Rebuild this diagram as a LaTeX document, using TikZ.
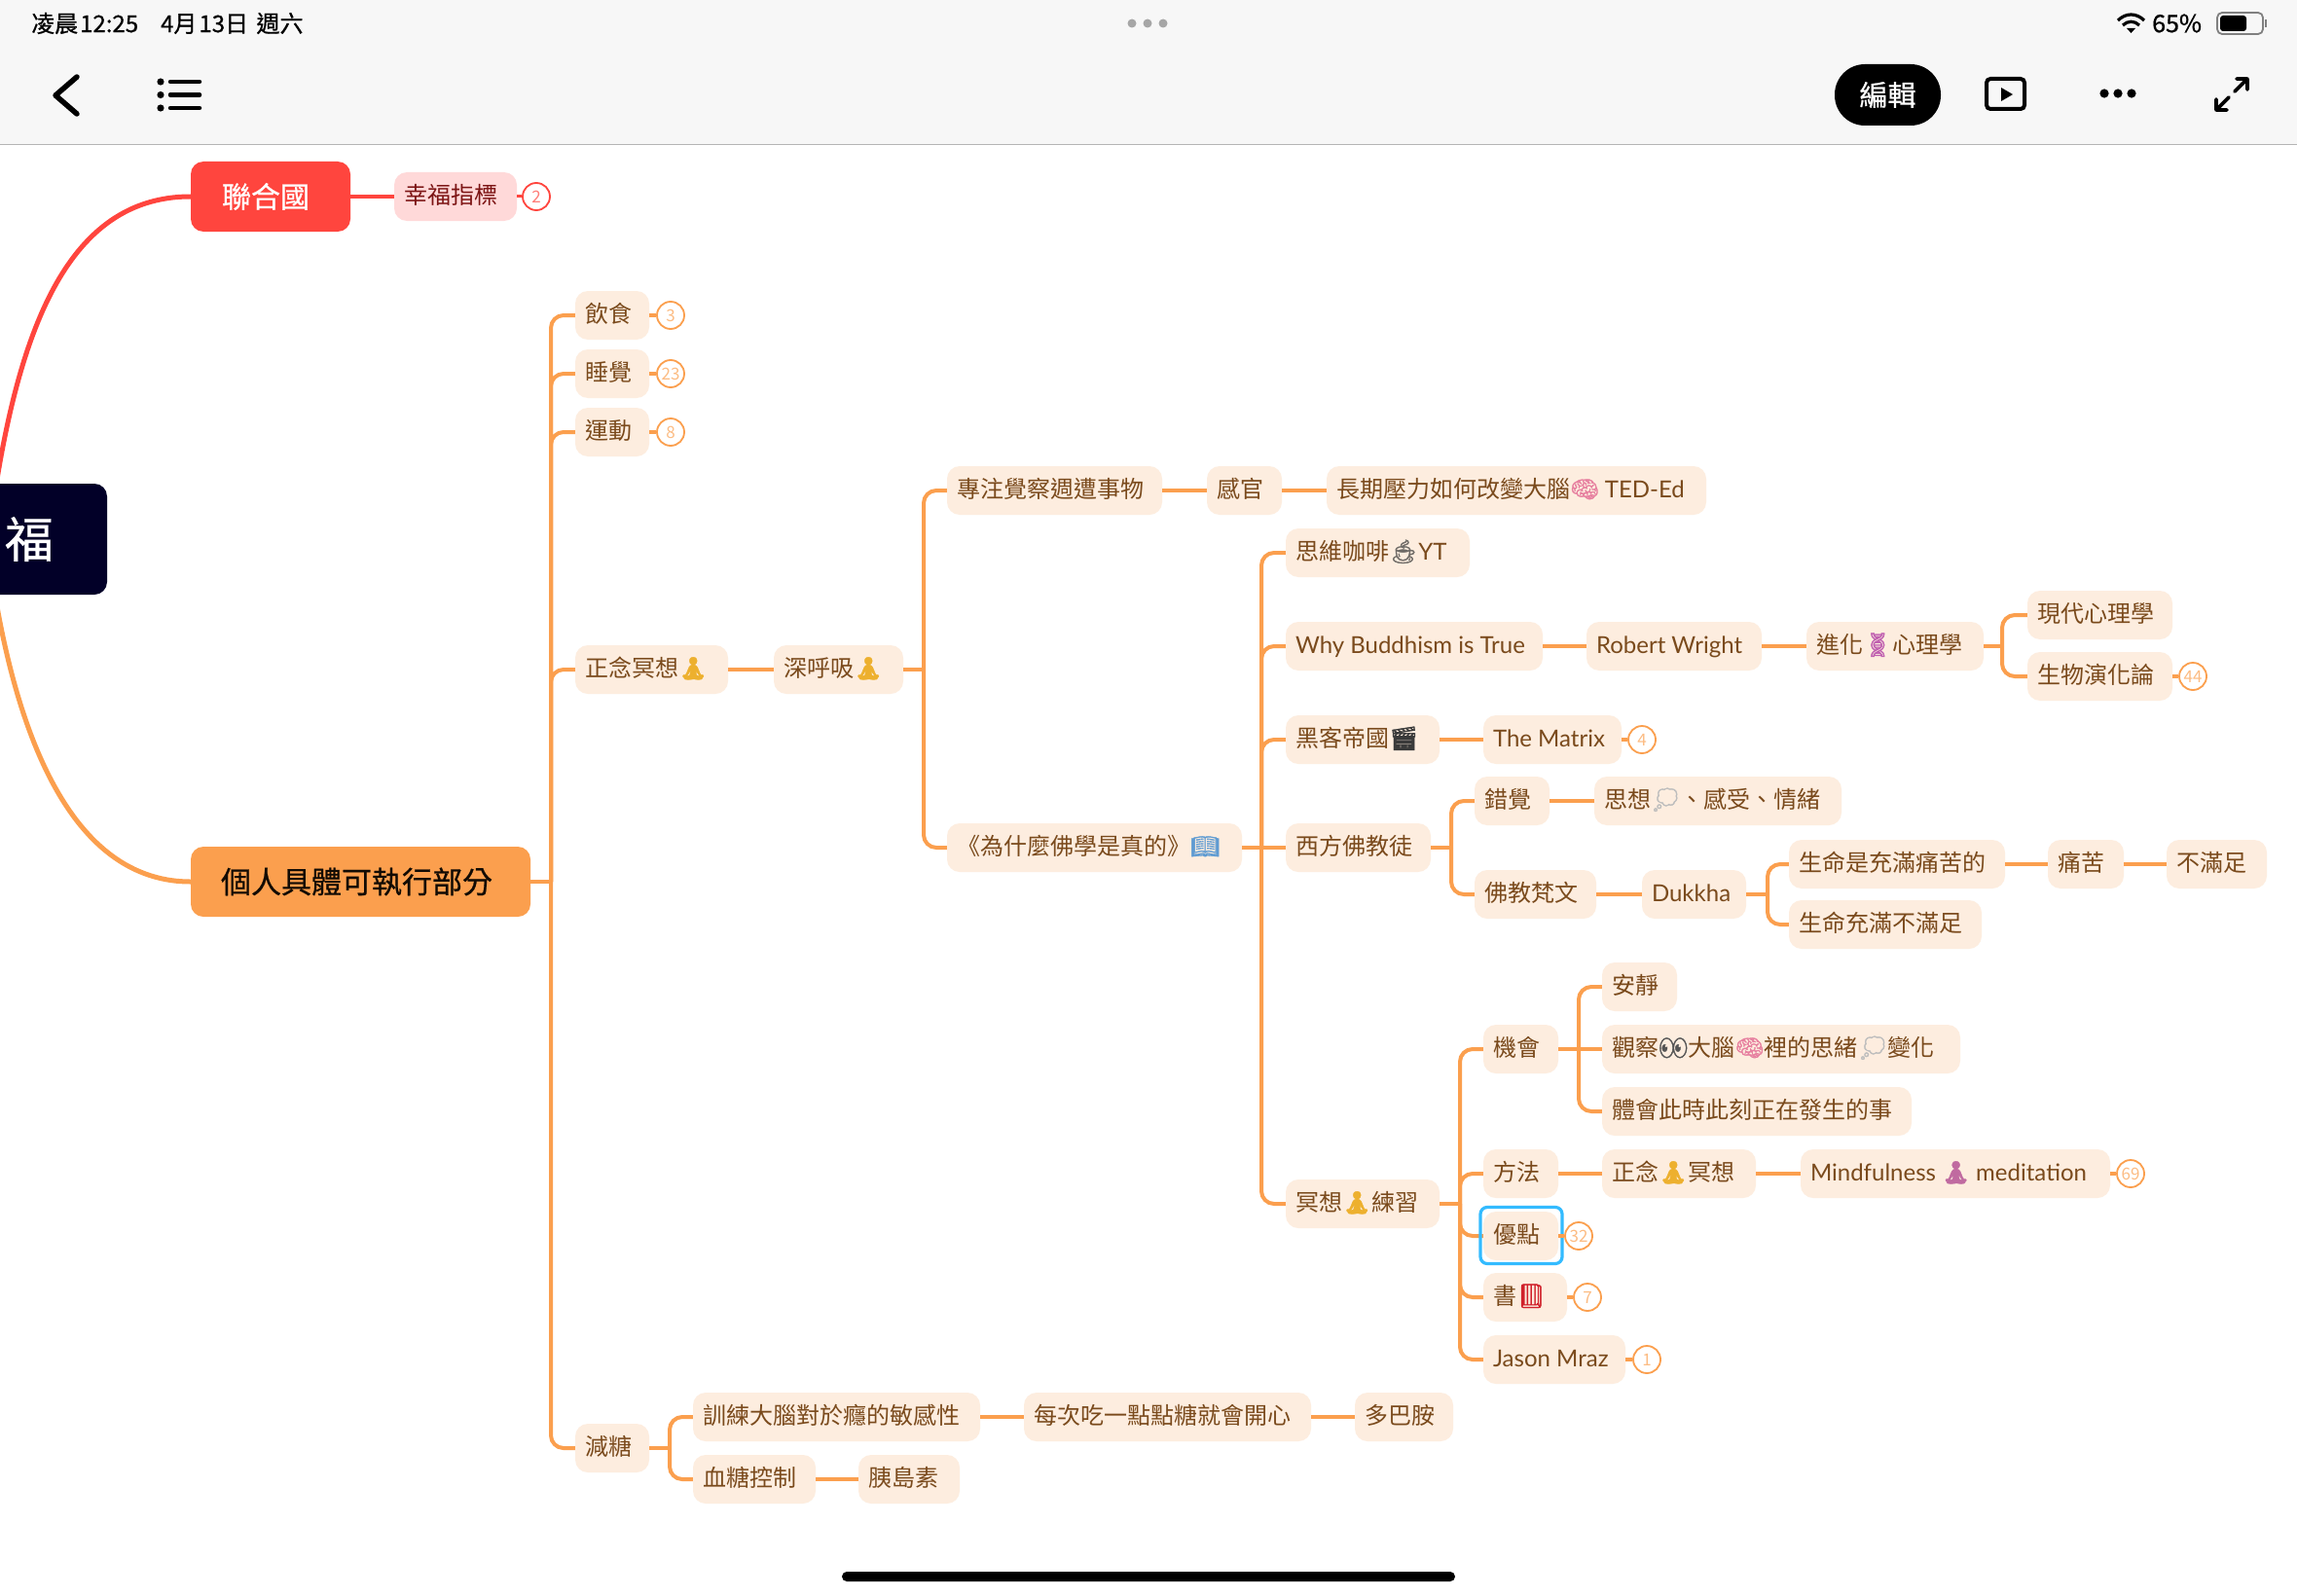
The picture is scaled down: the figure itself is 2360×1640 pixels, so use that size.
\documentclass[tikz,border=0pt]{standalone}
\usepackage{fontspec}
\setmainfont{Noto Sans CJK TC}
\newfontfamily\latf{Lato}
\newfontfamily\medf[FakeBold=0.7]{Noto Sans CJK TC}
\newfontfamily\emof[FakeBold=1.5]{Noto Emoji}
\newcommand{\lat}[1]{{\latf #1}}
\newcommand{\emo}[2]{\textcolor[HTML]{#1}{\emof #2}}
\definecolor{hdr}{HTML}{F7F7F7}
\definecolor{hln}{HTML}{B4B4B4}
\definecolor{org}{HTML}{FB9F4E}
\definecolor{redc}{HTML}{FF453E}
\definecolor{peach}{HTML}{FDEDDF}
\definecolor{brn}{HTML}{7A4A1C}
\definecolor{pink}{HTML}{FFD9D9}
\definecolor{drd}{HTML}{7C1414}
\definecolor{navy}{HTML}{020028}
\definecolor{sel}{HTML}{33BBFF}
\tikzset{
 nbox/.style={fill=peach,text=brn,rounded corners=13pt,inner xsep=0pt,inner ysep=0pt,minimum height=50pt,text height=20pt,text depth=6pt,font=\fontsize{24}{28}\selectfont},
 redbox/.style={nbox,fill=pink,text=drd},
 conn/.style={draw=org,line width=4pt,rounded corners=13pt},
 rconn/.style={draw=redc,line width=4pt},
 badge/.style={circle,draw=org,line width=1.8pt,fill=white,text=org!70,minimum size=28pt,inner sep=0pt,font=\fontsize{17}{20}\selectfont},
 rbadge/.style={badge,draw=redc,text=redc!70},
 icon/.style={draw=black,line width=4.5pt,line cap=round,line join=round},
}
\newcommand{\nd}[6][nbox]{%
 \pgfmathsetmacro\ww{#4-#3}%
 \node[#1,minimum width=\ww pt] (#2) at ({(#3+#4)/2},#5) {\makebox[\ww pt][l]{\hspace{10pt}#6}};}
\newcommand{\bd}[5][badge]{\node[#1] (#2) at (#3,#4) {#5};}
\begin{document}
\begin{tikzpicture}[x=1pt,y=-1pt]
\clip (0,0) rectangle (2360,1640);
\fill[white] (0,0) rectangle (2360,1640);
% header
\fill[hdr] (0,0) rectangle (2360,148);
\draw[hln,line width=1.5pt] (0,148.5) -- (2360,148.5);
\node[anchor=west,inner sep=0pt,font=\fontsize{24}{26}\selectfont\medf] (stat) at (32,24) {凌晨\hspace{2pt}12:25\hspace{23pt}4月\hspace{2pt}13日\hspace{3pt} 週六};
\fill[gray!70] (1163,24) circle (4.5) (1179,24) circle (4.5) (1195,24) circle (4.5);
\node[anchor=west,inner sep=0pt,font=\fontsize{25}{26}\selectfont\medf] (pct) at (2211,24) {65\%};
% wifi
\draw[black,line width=3.2pt] (2176,21) .. controls (2184,13) and (2195,13) .. (2203,21);
\draw[black,line width=3.2pt] (2181,26) .. controls (2186,21) and (2193,21) .. (2198,26);
\fill[black] (2185,29) -- (2194,29) -- (2189.5,34) -- cycle;
% battery
\draw[gray,line width=1.8pt,rounded corners=5pt] (2278,13) rectangle (2325,35);
\fill[black,rounded corners=3pt] (2281,16) rectangle (2308,32);
\fill[gray] (2327,20) rectangle (2329,28);
% left icons
\draw[icon,line width=5.5pt] (79,79) -- (57,98) -- (79,117);
\fill (165,84) circle (3.6) (165,97.5) circle (3.6) (165,111) circle (3.6);
\draw[icon] (175,84) -- (205,84) (175,97.5) -- (205,97.5) (175,111) -- (205,111);
% right icons
\node[fill=black,text=white,rounded corners=31pt,minimum width=109pt,minimum height=63pt,inner sep=0pt,font=\fontsize{29}{32}\selectfont\medf] (edit) at (1939.5,97.5) {編輯};
\draw[draw=black,line width=4pt,rounded corners=4pt] (2041,81) rectangle (2080,112);
\fill[black] (2056,90) -- (2068,97) -- (2056,104) -- cycle;
\fill[black] (2162,96) circle (4.6) (2176,96) circle (4.6) (2190,96) circle (4.6);
\draw[icon,line width=3.8pt] (2296,94) -- (2309,81) (2298,81) -- (2309,81) -- (2309,92);
\draw[icon,line width=3.8pt] (2290,100) -- (2277,113) (2277,102) -- (2277,113) -- (2288,113);
% home bar
\fill[black,rounded corners=5pt] (865,1615) rectangle (1495,1625);

% main branches
\node[fill=redc,text=white,rounded corners=13pt,minimum width=164pt,minimum height=72pt,inner sep=0pt,font=\fontsize{30}{34}\selectfont\medf] (lh) at (278,202) {\hspace{-10pt}聯合國};
\node[fill=org,text=black!85!brn,rounded corners=13pt,minimum width=349pt,minimum height=72pt,inner sep=0pt,font=\fontsize{31}{34}\selectfont\medf] (pers) at (370.5,906) {\hspace{-8pt}個人具體可執行部分};
\coordinate (rc) at (-15,580);
\coordinate (oc) at (-15,540);
\draw[rconn,line width=5pt] (rc) .. controls (10,360) and (60,202) .. (lh.west);
\draw[draw=org,line width=5pt] (oc) .. controls (5,720) and (60,906) .. (pers.west);
\node[fill=navy,text=white,rounded corners=13pt,minimum width=160pt,minimum height=114pt,inner sep=0pt,font=\fontsize{50}{56}\selectfont\medf] (root) at (30,554) {\raisebox{3pt}{福}};

% red branch
\nd[redbox]{xf}{405}{531}{202}{幸福指標}
\bd[rbadge]{b2}{551}{202}{2}
\draw[rconn] (lh.east) -- (xf.west);
\draw[rconn,line width=3pt] (xf.east) -- (b2.west);

% level 1
\nd{ys}{591}{667}{324}{飲食}
\nd{sj}{591}{667}{384}{睡覺}
\nd{yd}{591}{667}{444}{運動}
\nd{nx}{591}{748}{688}{正念冥想\emo{EDB02E}{🧘}}
\nd{jt}{591}{667}{1488}{減糖}
\bd{b3}{689}{324}{3}
\bd{b23}{689}{384}{23}
\bd{b8}{689}{444}{8}
\coordinate (t0) at (566,906);
\draw[conn] (pers.east) -- (t0);
\foreach \c in {ys,sj,yd,nx,jt} \draw[conn] (t0) |- (\c.west);
\draw[conn] (ys.east) -- (b3.west);
\draw[conn] (sj.east) -- (b23.west);
\draw[conn] (yd.east) -- (b8.west);

% meditation chain
\nd{hx}{795}{928}{688}{深呼吸\emo{EDB02E}{🧘}}
\draw[conn] (nx.east) -- (hx.west);
\nd{zz}{973}{1194}{504}{專注覺察週遭事物}
\nd{gg}{1240}{1317}{504}{感官}
\nd{cq}{1363}{1753}{504}{長期壓力如何改變大腦\emo{E77F9F}{🧠} \lat{TED-Ed}}
\nd{wh}{973}{1276}{871}{《為什麼佛學是真的》\emo{5E9BD2}{📖}}
\coordinate (t1) at (949,688);
\draw[conn] (hx.east) -- (t1);
\draw[conn] (t1) |- (zz.west);
\draw[conn] (t1) |- (wh.west);
\draw[conn] (zz.east) -- (gg.west);
\draw[conn] (gg.east) -- (cq.west);

% book children
\nd{sw}{1321}{1510}{568}{思維咖啡\emo{6E6A66}{☕}\lat{YT}}
\nd{wb}{1321}{1585}{664}{\lat{Why Buddhism is True}}
\nd{hk}{1321}{1479}{760}{黑客帝國\emo{3A3A3A}{🎬}}
\nd{xf2}{1321}{1470}{871}{西方佛教徒}
\nd{mx}{1321}{1479}{1237}{冥想\emo{EDB02E}{🧘}練習}
\coordinate (t2) at (1296,871);
\draw[conn] (wh.east) -- (xf2.west);
\foreach \c in {sw,wb,hk,mx} \draw[conn] (t2) |- (\c.west);

\nd{rw}{1630}{1810}{664}{\lat{Robert Wright}}
\nd{jh}{1856}{2038}{664}{進化\emo{C060B0}{🧬}心理學}
\nd{xd}{2083}{2232}{632}{現代心理學}
\nd{sy}{2083}{2232}{695}{生物演化論}
\bd{b44}{2253}{695}{44}
\coordinate (t3) at (2057,664);
\draw[conn] (wb.east) -- (rw.west);
\draw[conn] (rw.east) -- (jh.west);
\draw[conn] (jh.east) -- (t3);
\draw[conn] (t3) |- (xd.west);
\draw[conn] (t3) |- (sy.west);
\draw[conn] (sy.east) -- (b44.west);

\nd{tm}{1524}{1666}{760}{\lat{The Matrix}}
\bd{b4}{1687}{760}{4}
\draw[conn] (hk.east) -- (tm.west);
\draw[conn] (tm.east) -- (b4.west);

\nd{cj}{1515}{1592}{823}{錯覺}
\nd{sx}{1638}{1892}{823}{思想\emo{BDBDBD}{💭}、感受、情緒}
\nd{fj}{1515}{1640}{919}{佛教梵文}
\nd{dk}{1687}{1794}{919}{\lat{Dukkha}}
\nd{sm}{1838}{2060}{888}{生命是充滿痛苦的}
\nd{sm2}{1838}{2036}{950}{生命充滿不滿足}
\nd{tk}{2104}{2182}{888}{痛苦}
\nd{bm}{2226}{2329}{888}{不滿足}
\coordinate (t4) at (1491,871);
\coordinate (t5) at (1816,919);
\draw[conn] (xf2.east) -- (t4);
\draw[conn] (t4) |- (cj.west);
\draw[conn] (t4) |- (fj.west);
\draw[conn] (cj.east) -- (sx.west);
\draw[conn] (fj.east) -- (dk.west);
\draw[conn] (dk.east) -- (t5);
\draw[conn] (t5) |- (sm.west);
\draw[conn] (t5) |- (sm2.west);
\draw[conn] (sm.east) -- (tk.west);
\draw[conn] (tk.east) -- (bm.west);

% practice
\nd{jh2}{1524}{1601}{1078}{機會}
\nd{ff}{1524}{1601}{1206}{方法}
\nd{yo}{1524}{1601}{1270}{優點}
\nd{sh}{1524}{1610}{1333}{書\emo{D0202A}{📕}}
\nd{jm}{1524}{1670}{1397}{\lat{Jason Mraz}}
\coordinate (t6) at (1500,1237);
\draw[conn] (mx.east) -- (t6);
\foreach \c in {jh2,ff,yo,sh,jm} \draw[conn] (t6) |- (\c.west);
\node[draw=sel,line width=3.2pt,rounded corners=7pt,minimum width=84pt,minimum height=58pt,inner sep=0pt] (selbox) at (1563,1269.5) {};
\bd{b32}{1622}{1270}{32}
\bd{b7}{1631}{1333}{7}
\bd{b1}{1692}{1397}{1}
\draw[conn] (yo.east) -- (b32.west);
\draw[conn] (sh.east) -- (b7.west);
\draw[conn] (jm.east) -- (b1.west);

\nd{aj}{1646}{1723}{1014}{安靜}
\nd{gc}{1646}{2014}{1078}{觀察\emo{555555}{👀}大腦\emo{E77F9F}{🧠}裡的思緒\emo{BDBDBD}{💭}變化}
\nd{th}{1646}{1964}{1142}{體會此時此刻正在發生的事}
\coordinate (t7) at (1622,1078);
\draw[conn] (jh2.east) -- (gc.west);
\draw[conn] (t7) |- (aj.west);
\draw[conn] (t7) |- (th.west);

\nd{zn}{1646}{1804}{1206}{正念\emo{EDB02E}{🧘}冥想}
\nd{mf}{1850}{2168}{1206}{\lat{Mindfulness} \emo{C06AA0}{🧘} \lat{meditation}}
\bd{b69}{2189}{1206}{69}
\draw[conn] (ff.east) -- (zn.west);
\draw[conn] (zn.east) -- (mf.west);
\draw[conn] (mf.east) -- (b69.west);

% sugar
\nd{xl}{712}{1007}{1456}{訓練大腦對於癮的敏感性}
\nd{xt}{712}{838}{1520}{血糖控制}
\nd{mc}{1052}{1347}{1456}{每次吃一點點糖就會開心}
\nd{db}{1392}{1493}{1456}{多巴胺}
\nd{yi}{882}{986}{1520}{胰島素}
\coordinate (t8) at (688,1488);
\draw[conn] (jt.east) -- (t8);
\draw[conn] (t8) |- (xl.west);
\draw[conn] (t8) |- (xt.west);
\draw[conn] (xl.east) -- (mc.west);
\draw[conn] (mc.east) -- (db.west);
\draw[conn] (xt.east) -- (yi.west);
\end{tikzpicture}
\end{document}
